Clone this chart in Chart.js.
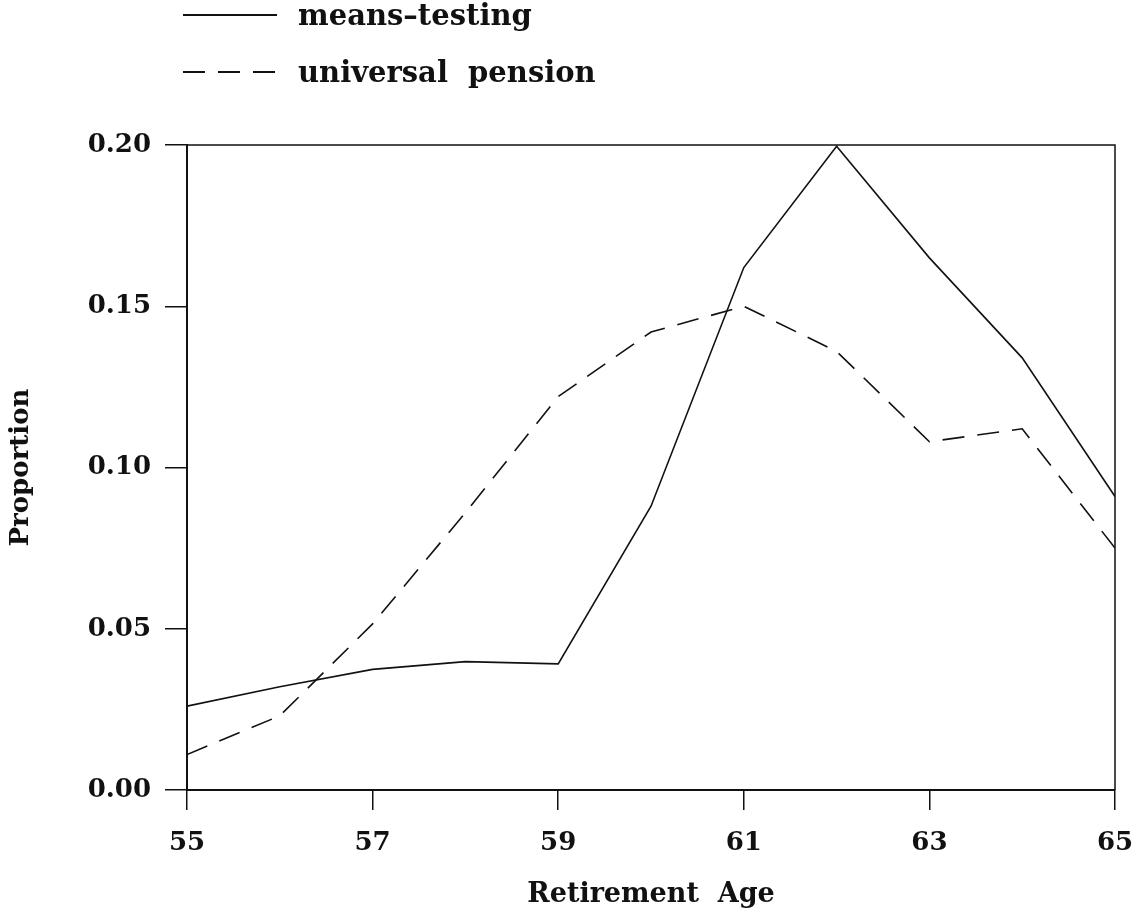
<!DOCTYPE html>
<html>
<head>
<meta charset="utf-8">
<script src="https://cdn.jsdelivr.net/npm/chart.js@4.4.1/dist/chart.umd.min.js"></script>
<style>
html,body{margin:0;padding:0;background:#fff;}
#wrap{width:1141px;height:922px;position:relative;}
</style>
</head>
<body>
<div id="wrap"><canvas id="c" width="1141" height="922"></canvas></div>
<script>
const ages = [55, 56, 57, 58, 59, 60, 61, 62, 63, 64, 65];
const meansTesting = [0.026, 0.032, 0.0374, 0.0398, 0.0391, 0.088, 0.162, 0.1996, 0.165, 0.134, 0.091];
const universalPension = [0.011, 0.023, 0.0515, 0.086, 0.122, 0.142, 0.150, 0.136, 0.108, 0.112, 0.075];
const seriesLabels = ['means\u2013testing', 'universal  pension'];
const xTitle = 'Retirement  Age';
const yTitle = 'Proportion';

const FONT = '"DejaVu Serif", "Liberation Serif", serif';
const INK = '#111';

const toPts = (vals) => ages.map((a, i) => ({x: a, y: vals[i]}));

const framePlugin = {
  id: 'frame',
  afterDatasetsDraw(chart) {
    const {ctx, chartArea: a} = chart;
    ctx.save();
    ctx.strokeStyle = INK;
    ctx.lineWidth = 1.5;
    ctx.beginPath();
    ctx.moveTo(a.left, a.top);
    ctx.lineTo(a.right, a.top);
    ctx.lineTo(a.right, a.bottom);
    ctx.stroke();
    ctx.restore();
  }
};

const legendPlugin = {
  id: 'lineLegend',
  afterDraw(chart) {
    const {ctx} = chart;
    ctx.save();
    const rows = [15, 72];
    chart.data.datasets.forEach((ds, i) => {
      const y = rows[i];
      ctx.strokeStyle = INK;
      ctx.lineWidth = 2;
      ctx.setLineDash(ds.borderDash || []);
      ctx.beginPath();
      ctx.moveTo(183, y);
      ctx.lineTo(277, y);
      ctx.stroke();
      ctx.setLineDash([]);
      ctx.fillStyle = INK;
      ctx.font = 'bold 29px ' + FONT;
      ctx.textBaseline = 'middle';
      ctx.textAlign = 'left';
      ctx.fillText(ds.label, 298, y + 2);
    });
    ctx.restore();
  }
};

new Chart(document.getElementById('c'), {
  type: 'line',
  data: {
    datasets: [
      {label: seriesLabels[0], data: toPts(meansTesting), borderColor: INK, borderWidth: 1.6, pointRadius: 0, tension: 0, fill: false},
      {label: seriesLabels[1], data: toPts(universalPension), borderColor: INK, borderWidth: 1.6, borderDash: [22, 13], pointRadius: 0, tension: 0, fill: false}
    ]
  },
  options: {
    responsive: false,
    animation: false,
    layout: {padding: {top: 145, right: 26, left: 0, bottom: 0}},
    plugins: {legend: {display: false}, tooltip: {enabled: false}},
    scales: {
      x: {
        type: 'linear', min: 55, max: 65,
        ticks: {stepSize: 2, color: INK, font: {family: FONT, size: 26, weight: 'bold'}, padding: 18, maxRotation: 0},
        grid: {drawOnChartArea: false, drawTicks: true, tickLength: 20, color: INK, lineWidth: 1.5},
        border: {display: true, color: INK, width: 2},
        title: {display: true, text: xTitle, color: INK, font: {family: FONT, size: 27, weight: 'bold'}, padding: {top: 0, bottom: 11}},
        afterFit(s) { s.height = 132; s.paddingLeft = 0; s.paddingRight = 0; }
      },
      y: {
        min: 0, max: 0.2,
        ticks: {stepSize: 0.05, color: INK, font: {family: FONT, size: 26, weight: 'bold'}, padding: 14, callback: (v) => v.toFixed(2)},
        grid: {drawOnChartArea: false, drawTicks: true, tickLength: 22, color: INK, lineWidth: 1.5},
        border: {display: true, color: INK, width: 2},
        title: {display: true, text: yTitle, color: INK, font: {family: FONT, size: 26, weight: 'bold'}, padding: {top: 6, bottom: 0}},
        afterFit(s) { s.width = 187; }
      }
    }
  },
  plugins: [framePlugin, legendPlugin]
});
</script>
</body>
</html>
